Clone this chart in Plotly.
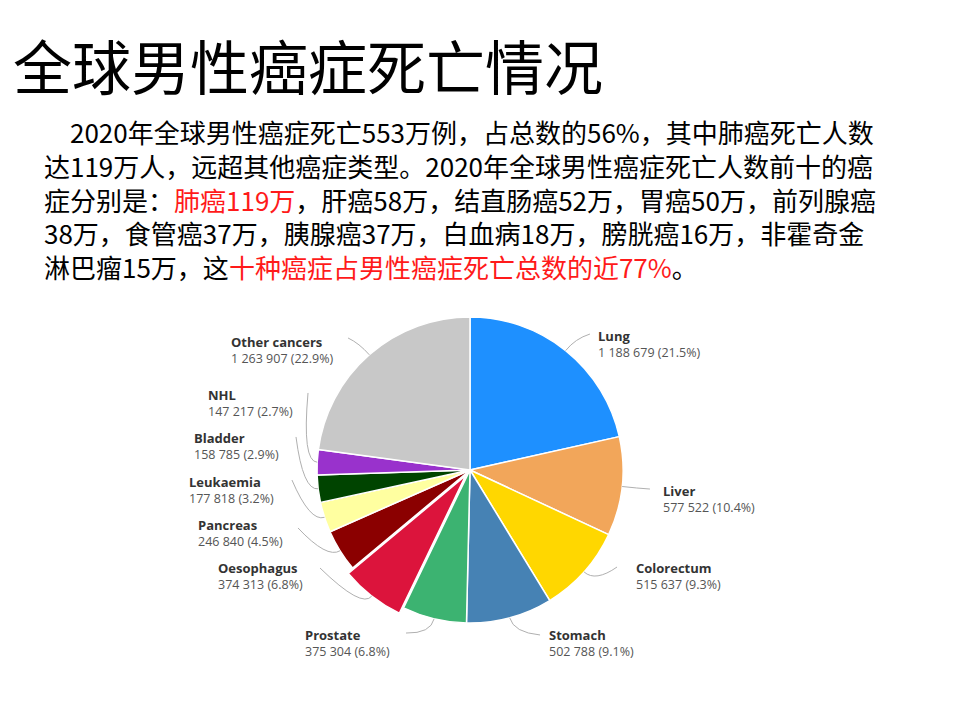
import math
import plotly.graph_objects as go

# data
cancers = ["Lung", "Liver", "Colorectum", "Stomach", "Prostate", "Oesophagus",
           "Pancreas", "Leukaemia", "Bladder", "NHL", "Other cancers"]
deaths = [1188679, 577522, 515637, 502788, 375304, 374313,
          246840, 177818, 158785, 147217, 1263907]
pulls = [0, 0, 0, 0, 0, 0.045, 0, 0, 0, 0, 0]
colors = ["#1E90FF", "#F2A65A", "#FFD700", "#4682B4", "#3CB371", "#DC143C",
          "#8B0000", "#FFFFA0", "#004400", "#9932CC", "#C8C8C8"]

title_text = "全球男性癌症死亡情况"
body_lines = [
    "　2020年全球男性癌症死亡553万例，占总数的56%，其中肺癌死亡人数",
    "达119万人，远超其他癌症类型。2020年全球男性癌症死亡人数前十的癌",
    "症分别是：<span style='color:#FF1A1A'>肺癌119万</span>，肝癌58万，结直肠癌52万，胃癌50万，前列腺癌",
    "38万，食管癌37万，胰腺癌37万，白血病18万，膀胱癌16万，非霍奇金",
    "淋巴瘤15万，这<span style='color:#FF1A1A'>十种癌症占男性癌症死亡总数的近77%</span>。",
]

# layout (pixels as seen in the screenshot; page body has an 8px margin)
W, H = 960, 720
OFF = 8
cx, cy, r = 470, 470, 153
# label: (left x, middle y of the two lines, leader end x, leader end y)
label_pos = {
    "Lung": (596, 344, 590, 334),
    "Liver": (661, 499, 650, 489),
    "Colorectum": (634, 576, 617, 567),
    "Stomach": (547, 643, 540, 635),
    "Prostate": (303, 643, 406, 633),
    "Oesophagus": (216, 576, 320, 568),
    "Pancreas": (196, 533, 298, 528),
    "Leukaemia": (187, 490, 292, 480),
    "Bladder": (192, 446, 296, 437),
    "NHL": (206, 403, 308, 393),
    "Other cancers": (229, 350, 348, 338),
}


def px(x, y):
    return (x - OFF) / W, 1 - (y - OFF) / H


half = r * (1 + max(pulls))
d0 = px(cx - half, cy + half)
d1 = px(cx + half, cy - half)
fig = go.Figure(go.Pie(
    labels=cancers,
    values=deaths,
    sort=False,
    direction="clockwise",
    rotation=0,
    pull=pulls,
    textinfo="none",
    hoverinfo="label+value+percent",
    marker=dict(colors=colors, line=dict(color="white", width=1.5)),
    domain=dict(x=[d0[0], d1[0]], y=[d0[1], d1[1]]),
    showlegend=False,
))

total = sum(deaths)
cum = 0
shapes = []
annotations = []
for name, val, pull in zip(cancers, deaths, pulls):
    mid = (cum + val / 2) / total * 2 * math.pi
    cum += val
    rr = r * (1 + pull)
    sx, sy = cx + rr * math.sin(mid), cy - rr * math.cos(mid)
    qx, qy = cx + rr * 1.1 * math.sin(mid), cy - rr * 1.1 * math.cos(mid)
    lx, ly, ex, ey = label_pos[name]
    p0, p1, p2 = px(sx, sy), px(qx, qy), px(ex, ey)
    shapes.append(dict(
        type="path", xref="paper", yref="paper",
        path=f"M {p0[0]:.4f} {p0[1]:.4f} Q {p1[0]:.4f} {p1[1]:.4f} {p2[0]:.4f} {p2[1]:.4f}",
        line=dict(color="#B0B0B0", width=1),
    ))
    pct = val / total * 100
    num = f"{val:,}".replace(",", " ")
    ax_, ay_ = px(lx, ly)
    annotations.append(dict(
        x=ax_, y=ay_, xref="paper", yref="paper", xanchor="left", yanchor="middle",
        align="left", showarrow=False,
        text=(f"<span style='font-size:13px;color:#333333'><b>{name}</b></span><br>"
              f"{num} ({pct:.1f}%)"),
        font=dict(family="Open Sans", size=12.5, color="#555555"),
    ))

# title and paragraph
tx, ty = px(11, 65)
annotations.append(dict(
    x=tx, y=ty, xref="paper", yref="paper", xanchor="left", yanchor="middle",
    text=title_text, showarrow=False,
    font=dict(family="Noto Sans CJK SC", size=59, color="#000000"),
))
bx, by = px(42, 199)
annotations.append(dict(
    x=bx, y=by, xref="paper", yref="paper", xanchor="left", yanchor="middle",
    align="left", text="<br>".join(body_lines), showarrow=False,
    font=dict(family="Noto Sans CJK SC", size=26, color="#000000"),
))

fig.update_layout(
    width=W, height=H,
    margin=dict(l=0, r=0, t=0, b=0),
    paper_bgcolor="white",
    plot_bgcolor="white",
    shapes=shapes,
    annotations=annotations,
)

fig.write_html("out.html")
